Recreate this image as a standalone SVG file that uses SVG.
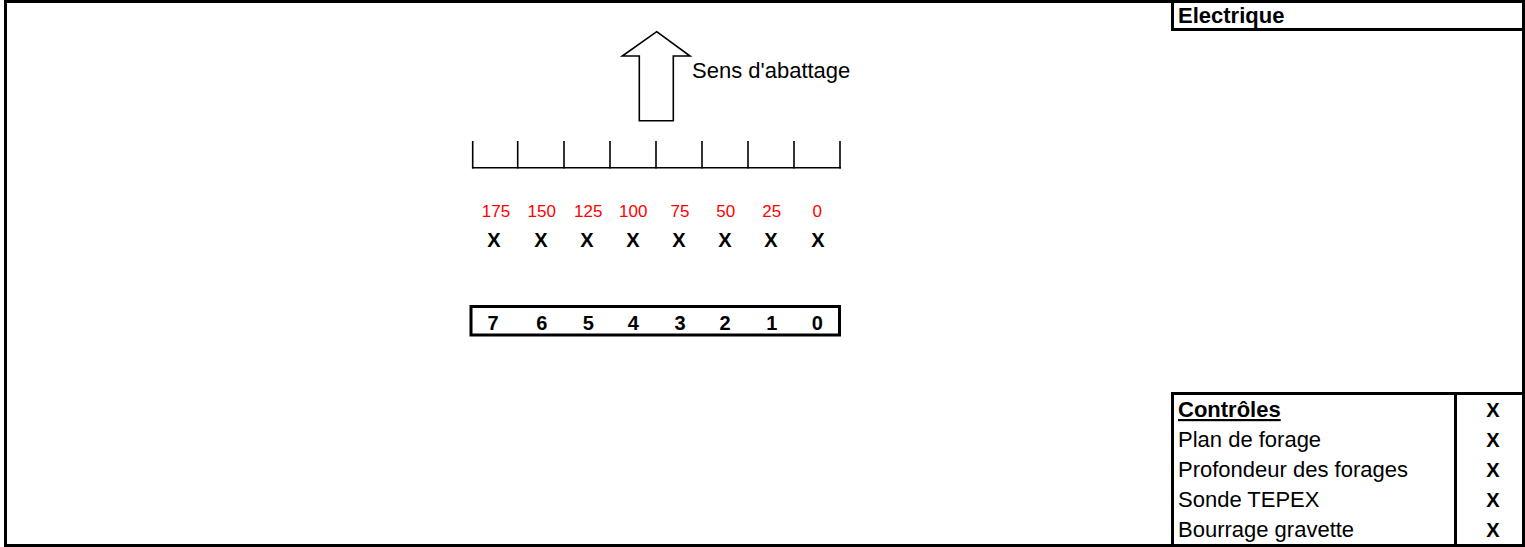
<svg xmlns="http://www.w3.org/2000/svg" width="1525" height="547" viewBox="0 0 1525 547">
<style>
text{font-family:"Liberation Sans",Arial,sans-serif;fill:#000}
.lbl{font-size:22px}
.b{font-weight:bold}
.red{fill:#ff0000;font-size:17px}
.x{font-size:20px;font-weight:bold}
.thick{stroke:#000;stroke-width:3;fill:none}
.thin{stroke:#000;stroke-width:1.6;fill:none}
</style>
<rect x="0" y="0" width="1525" height="547" fill="#fff"/>
<g id="frame">
<rect class="thick" x="5.5" y="1.5" width="1518" height="544"/>
</g>
<g id="electrique">
<line class="thick" x1="1172.5" y1="0" x2="1172.5" y2="31"/>
<line class="thick" x1="1172.5" y1="29.5" x2="1523.5" y2="29.5"/>
<text class="lbl b" x="1178" y="23">Electrique</text>
</g>
<g id="arrow">
<polygon class="thin" points="656.7,31.7 690,56 673.3,56 673.3,120.7 639.3,120.7 639.3,56 622.3,56"/>
<text class="lbl" x="692" y="78">Sens d'abattage</text>
</g>
<g id="ruler">
<line class="thin" x1="472" y1="167.7" x2="841" y2="167.7"/>
<path class="thin" d="M472.7,141V168.5M517.7,141V168.5M564,141V168.5M610,141V168.5M656,141V168.5M702,141V168.5M748,141V168.5M794,141V168.5M840,141V168.5"/>
</g>
<g id="distances" text-anchor="middle">
<text class="red" x="496" y="217">175</text>
<text class="red" x="541.7" y="217">150</text>
<text class="red" x="588.3" y="217">125</text>
<text class="red" x="633.3" y="217">100</text>
<text class="red" x="680" y="217">75</text>
<text class="red" x="725.7" y="217">50</text>
<text class="red" x="771.7" y="217">25</text>
<text class="red" x="817.3" y="217">0</text>
<text class="x" x="494" y="247">X</text>
<text class="x" x="541" y="247">X</text>
<text class="x" x="587" y="247">X</text>
<text class="x" x="633" y="247">X</text>
<text class="x" x="679" y="247">X</text>
<text class="x" x="725" y="247">X</text>
<text class="x" x="771" y="247">X</text>
<text class="x" x="818" y="247">X</text>
</g>
<g id="numbers">
<rect class="thick" x="471" y="306.5" width="368.5" height="28.5"/>
<g text-anchor="middle">
<text class="x" x="493" y="329.5">7</text>
<text class="x" x="541.7" y="329.5">6</text>
<text class="x" x="588.3" y="329.5">5</text>
<text class="x" x="633.3" y="329.5">4</text>
<text class="x" x="680" y="329.5">3</text>
<text class="x" x="725" y="329.5">2</text>
<text class="x" x="771.7" y="329.5">1</text>
<text class="x" x="817.3" y="329.5">0</text>
</g>
</g>
<g id="controles">
<line class="thick" x1="1172.5" y1="393.5" x2="1523.5" y2="393.5"/>
<line class="thick" x1="1172.5" y1="392" x2="1172.5" y2="547"/>
<line class="thick" x1="1455.5" y1="392" x2="1455.5" y2="547"/>
<text class="lbl b" x="1178" y="417" text-decoration="underline">Contrôles</text>
<text class="lbl" x="1178" y="447">Plan de forage</text>
<text class="lbl" x="1178" y="477">Profondeur des forages</text>
<text class="lbl" x="1178" y="507">Sonde TEPEX</text>
<text class="lbl" x="1178" y="537">Bourrage gravette</text>
<g text-anchor="middle">
<text class="x" x="1493" y="417">X</text>
<text class="x" x="1493" y="447">X</text>
<text class="x" x="1493" y="477">X</text>
<text class="x" x="1493" y="507">X</text>
<text class="x" x="1493" y="537">X</text>
</g>
</g>
<g id="connectors"></g>
</svg>
